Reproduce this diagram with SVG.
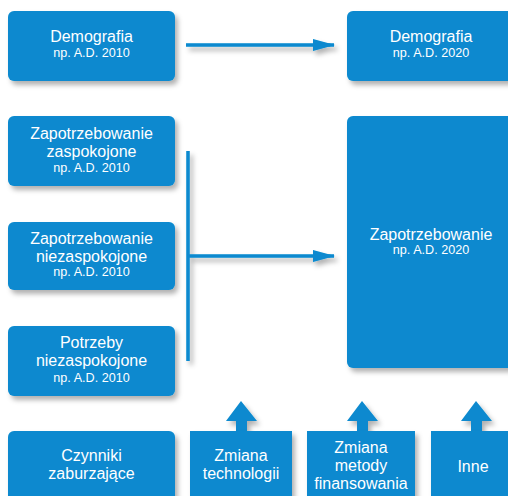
<svg xmlns="http://www.w3.org/2000/svg" width="508" height="496" viewBox="0 0 508 496">
<defs>
<filter id="sh" x="-20%" y="-20%" width="150%" height="150%">
<feDropShadow dx="3" dy="4" stdDeviation="2.5" flood-color="#000" flood-opacity="0.3"/>
</filter>
<filter id="shl" filterUnits="userSpaceOnUse" x="0" y="0" width="508" height="496">
<feDropShadow dx="3" dy="4" stdDeviation="2.5" flood-color="#000" flood-opacity="0.3"/>
</filter>
<marker id="ah" viewBox="0 0 22 12" refX="21" refY="6" markerWidth="22" markerHeight="12" markerUnits="userSpaceOnUse" orient="auto">
<path d="M0,0 L22,6 L0,12 Z" fill="#0889cf"/>
</marker>
<style>
.box{fill:#0889cf;filter:url(#sh)}
.t{font-family:"Liberation Sans",Arial,sans-serif;font-size:16px;fill:#fff;text-anchor:middle}
.s{font-family:"Liberation Sans",Arial,sans-serif;font-size:12.6px;fill:#fff;text-anchor:middle}
.ln{stroke:#0889cf;stroke-width:3.5;fill:none}
.ua{fill:#0889cf;filter:url(#sh)}
</style>
</defs>
<g id="connectors">
<g filter="url(#shl)">
<line class="ln" x1="186" y1="45" x2="334" y2="45" marker-end="url(#ah)"/>
<line class="ln" x1="188" y1="151" x2="188" y2="361"/>
<line class="ln" x1="188" y1="256" x2="334" y2="256" marker-end="url(#ah)"/>
</g>
<path class="ua" d="M241,401 L257,421 L247,421 L247,432 L236,432 L236,421 L226,421 Z"/>
<path class="ua" d="M362,401 L378,421 L368,421 L368,432 L357,432 L357,421 L347,421 Z"/>
<path class="ua" d="M476,401 L492,421 L482,421 L482,432 L471,432 L471,421 L461,421 Z"/>
</g>
<g id="demografia2010">
<rect class="box" x="8" y="11" width="167" height="70" rx="6"/>
<text class="t" x="91.5" y="42">Demografia</text>
<text class="s" x="91.5" y="57">np. A.D. 2010</text>
</g>
<g id="demografia2020">
<rect class="box" x="347" y="11" width="167" height="70" rx="6"/>
<text class="t" x="431" y="42">Demografia</text>
<text class="s" x="431" y="57">np. A.D. 2020</text>
</g>
<g id="zaspokojone">
<rect class="box" x="8" y="116" width="167" height="70" rx="6"/>
<text class="t" x="91.5" y="139">Zapotrzebowanie</text>
<text class="t" x="91.5" y="157">zaspokojone</text>
<text class="s" x="91.5" y="172">np. A.D. 2010</text>
</g>
<g id="niezaspokojone">
<rect class="box" x="8" y="222" width="167" height="68" rx="6"/>
<text class="t" x="91.5" y="244">Zapotrzebowanie</text>
<text class="t" x="91.5" y="262">niezaspokojone</text>
<text class="s" x="91.5" y="276">np. A.D. 2010</text>
</g>
<g id="potrzeby">
<rect class="box" x="8" y="326" width="167" height="70" rx="6"/>
<text class="t" x="91.5" y="348">Potrzeby</text>
<text class="t" x="91.5" y="366">niezaspokojone</text>
<text class="s" x="91.5" y="382">np. A.D. 2010</text>
</g>
<g id="zapotrzebowanie2020">
<rect class="box" x="347" y="116" width="167" height="252" rx="6"/>
<text class="t" x="431" y="240">Zapotrzebowanie</text>
<text class="s" x="431" y="254">np. A.D. 2020</text>
</g>
<g id="czynniki">
<rect class="box" x="8" y="431" width="167" height="75" rx="6"/>
<text class="t" x="91.5" y="461">Czynniki</text>
<text class="t" x="91.5" y="479">zaburzające</text>
</g>
<g id="technologia">
<rect class="box" x="190" y="431" width="102" height="75"/>
<text class="t" x="241" y="461">Zmiana</text>
<text class="t" x="241" y="479">technologii</text>
</g>
<g id="finansowanie">
<rect class="box" x="307" y="431" width="108" height="75"/>
<text class="t" x="361" y="453">Zmiana</text>
<text class="t" x="361" y="471">metody</text>
<text class="t" x="361" y="489">finansowania</text>
</g>
<g id="inne">
<rect class="box" x="431" y="431" width="90" height="75"/>
<text class="t" x="473" y="472">Inne</text>
</g>
</svg>
